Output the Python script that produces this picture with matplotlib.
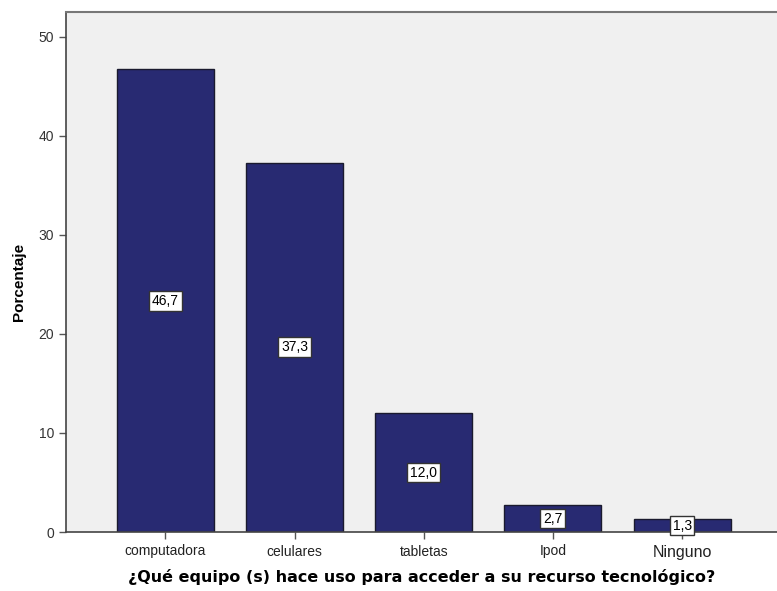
import numpy as np
import matplotlib
matplotlib.use('Agg')
import matplotlib.pyplot as plt

plt.rcParams['font.family'] = ['Liberation Sans', 'DejaVu Sans']

categories = ['computadora', 'celulares', 'tabletas', 'Ipod', 'Ninguno']
porcentajes = [46.7, 37.3, 12.0, 2.7, 1.3]
etiquetas = ['46,7', '37,3', '12,0', '2,7', '1,3']
yticks = [0, 10, 20, 30, 40, 50]

fig = plt.figure(figsize=(7.77, 5.91), dpi=100)
ax = fig.add_axes([66 / 777, 59 / 591, 711 / 777, 520 / 591])
ax.set_facecolor('#F0F0F0')

x = np.arange(len(categories))
ax.bar(x, porcentajes, width=0.75, color='#282A72', edgecolor='#1A1A2E', linewidth=1.0, zorder=2)

# etiquetas de valor en el centro de cada barra
for xi, v, lab in zip(x, porcentajes, etiquetas):
    ax.text(xi, v / 2, lab, ha='center', va='center', fontsize=10, zorder=3,
            bbox=dict(boxstyle='square,pad=0.2', facecolor='white', edgecolor='#333333', linewidth=1))

ax.set_xlim(-0.77, 4.735)
ax.set_ylim(0, 52.5)
ax.set_yticks(yticks)
ax.set_yticklabels([str(t) for t in yticks], fontsize=10, color='#333333')
ax.set_xticks(x)
ax.set_xticklabels(categories, fontsize=10, color='#222222')
ax.get_xticklabels()[-1].set_fontsize(11.5)
ax.tick_params(axis='both', direction='out', length=5, width=1, color='#555555')
ax.tick_params(axis='x', pad=4)

ax.set_ylabel('Porcentaje', fontsize=11, fontweight='bold')
ax.yaxis.set_label_coords(-0.056, 0.48)
ax.set_xlabel('¿Qué equipo (s) hace uso para acceder a su recurso tecnológico?',
              fontsize=11.5, fontweight='bold', labelpad=7, family='DejaVu Sans')

for s in ['left', 'bottom']:
    ax.spines[s].set_color('#444444')
    ax.spines[s].set_linewidth(1.2)
ax.spines['top'].set_color('#777777')
ax.spines['top'].set_linewidth(1.5)
ax.spines['right'].set_visible(False)

fig.savefig('out.png', dpi=100)
